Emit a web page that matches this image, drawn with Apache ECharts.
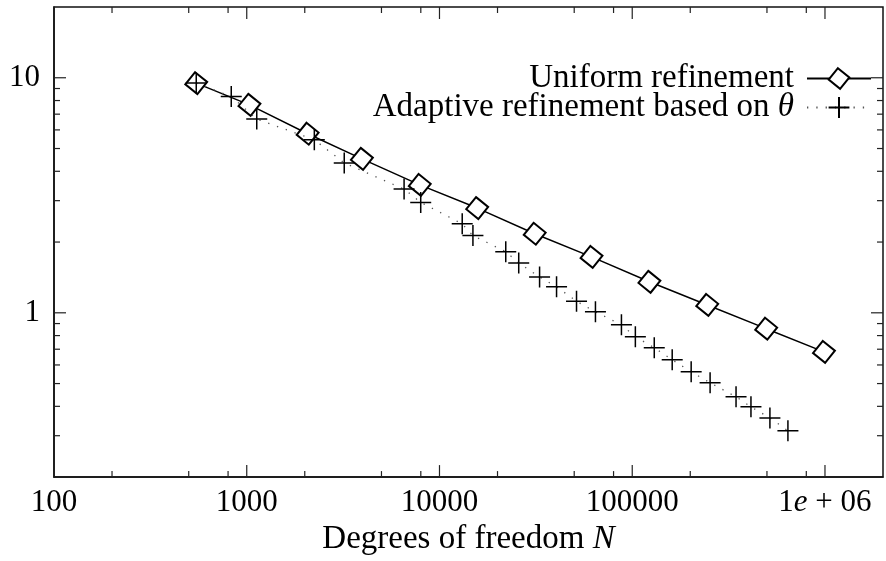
<!doctype html>
<html>
<head>
    <title>Convergence</title>
    <script src="https://cdn.jsdelivr.net/npm/echarts@6/dist/echarts.min.js"></script>
</head>
<style>
    html, body { margin: 0; background: #fff; }
    #chart { width: 886px; height: 561px; }
</style>
<body>
<div id="chart"></div>
<script>
  // degrees of freedom and error values
  var uniformN = [547, 1033, 2070, 3958, 7900, 15690, 31190, 61500, 122800, 245000, 495400, 988000];
  var uniformErr = [9.49, 7.67, 5.78, 4.52, 3.50, 2.79, 2.17, 1.73, 1.355, 1.08, 0.856, 0.682];

  var adaptiveN = [547, 831, 1127, 2242, 3205, 6551, 7991, 13120, 14910, 22070, 25770, 33060, 40490,
                   51400, 64440, 87900, 103800, 130100, 161200, 202200, 253500, 345600, 413000, 518000, 642300];
  var adaptiveErr = [9.49, 8.32, 6.67, 5.45, 4.34, 3.36, 2.95, 2.39, 2.13, 1.82, 1.63, 1.42, 1.29,
                     1.12, 1.01, 0.889, 0.791, 0.710, 0.631, 0.561, 0.504, 0.439, 0.398, 0.357, 0.315];

  var xRange = [100, 2e6];
  var yRange = [0.2, 20];
  var xMajor = [100, 1000, 10000, 100000, 1e6];
  var xMajorLabels = ['100', '1000', '10000', '100000', '1{i|e} + 06'];
  var xMinor = [200, 500, 800, 2000, 5000, 8000, 20000, 50000, 80000, 200000, 500000, 800000];
  var yMajor = [1, 10];
  var yMajorLabels = ['1', '10'];
  var yMinor = [0.3, 0.4, 0.5, 0.6, 0.7, 0.8, 0.9, 2, 3, 4, 5, 6, 7, 8, 9];

  var names = ['Uniform refinement', 'Adaptive refinement based on θ'];

  var font = 'Liberation Serif';
  var fs = 31;     // tick labels
  var fsText = 33; // axis name and key

  function pairs(xs, ys) {
    return xs.map(function (x, i) { return [x, ys[i]]; });
  }

  function labelFor(v, ticks, labels) {
    for (var i = 0; i < ticks.length; i++) {
      if (Math.abs(Math.log10(v) - Math.log10(ticks[i])) < 1e-6) return labels[i];
    }
    return '';
  }

  // tick marks: [x, y, length, kind] kind 0 = x tick, 1 = y tick
  var tickData = [];
  xMajor.forEach(function (v) { tickData.push([v, yRange[0], 12, 0]); });
  xMinor.forEach(function (v) { tickData.push([v, yRange[0], 6, 0]); });
  yMajor.forEach(function (v) { tickData.push([xRange[0], v, 12, 1]); });
  yMinor.forEach(function (v) { tickData.push([xRange[0], v, 6, 1]); });

  var lineStyleTick = { stroke: '#222', lineWidth: 1.2 };

  var myChart = echarts.init(document.getElementById('chart'));
  myChart.setOption({
    animation: false,
    backgroundColor: '#fff',
    grid: {
      left: 54, right: 1, top: 7, bottom: 81,
      show: true, borderColor: '#111', borderWidth: 1.5
    },
    legend: {
      orient: 'vertical',
      right: 9,
      top: 57,
      align: 'right',
      itemWidth: 64,
      itemHeight: 26,
      itemGap: -4,
      data: names,
      formatter: function (name) { return name.replace('θ', '{i|θ}'); },
      textStyle: {
        fontFamily: font, fontSize: fsText, color: '#000',
        padding: [0, 8, 0, 0],
        rich: { i: { fontFamily: font, fontSize: fsText, fontStyle: 'italic', color: '#000' } }
      }
    },
    xAxis: {
      type: 'log',
      logBase: 10,
      min: xRange[0],
      max: xRange[1],
      name: 'Degrees of freedom {i|N}',
      nameLocation: 'middle',
      nameGap: 42,
      nameTextStyle: {
        fontFamily: font, fontSize: fsText, color: '#000',
        rich: { i: { fontFamily: font, fontSize: fsText, fontStyle: 'italic', color: '#000' } }
      },
      axisLine: { show: true, lineStyle: { color: '#111', width: 1.5 } },
      axisTick: { show: false },
      splitLine: { show: false },
      axisLabel: {
        margin: 10,
        fontFamily: font, fontSize: fs, color: '#000',
        showMinLabel: true,
        formatter: function (v) { return labelFor(v, xMajor, xMajorLabels); },
        rich: { i: { fontFamily: font, fontSize: fs, fontStyle: 'italic', color: '#000' } }
      }
    },
    yAxis: {
      type: 'log',
      logBase: 10,
      min: yRange[0],
      max: yRange[1],
      axisLine: { show: true, lineStyle: { color: '#111', width: 1.5 } },
      axisTick: { show: false },
      splitLine: { show: false },
      axisLabel: {
        margin: 14,
        fontFamily: font, fontSize: fs, color: '#000',
        formatter: function (v) { return labelFor(v, yMajor, yMajorLabels); }
      }
    },
    series: [
      {
        type: 'custom',
        silent: true,
        clip: false,
        data: tickData,
        renderItem: function (params, api) {
          var len = api.value(2);
          var kind = api.value(3);
          if (kind === 0) {
            var b = api.coord([api.value(0), yRange[0]]);
            var t = api.coord([api.value(0), yRange[1]]);
            return {
              type: 'group',
              children: [
                { type: 'line', shape: { x1: b[0], y1: b[1], x2: b[0], y2: b[1] - len }, style: lineStyleTick },
                { type: 'line', shape: { x1: t[0], y1: t[1], x2: t[0], y2: t[1] + len }, style: lineStyleTick }
              ]
            };
          }
          var l = api.coord([xRange[0], api.value(1)]);
          var r = api.coord([xRange[1], api.value(1)]);
          return {
            type: 'group',
            children: [
              { type: 'line', shape: { x1: l[0], y1: l[1], x2: l[0] + len, y2: l[1] }, style: lineStyleTick },
              { type: 'line', shape: { x1: r[0], y1: r[1], x2: r[0] - len, y2: r[1] }, style: lineStyleTick }
            ]
          };
        }
      },
      {
        name: names[0],
        type: 'line',
        data: pairs(uniformN, uniformErr),
        symbol: 'emptyDiamond',
        symbolSize: 22,
        symbolRotate: 6,
        color: '#000',
        lineStyle: { color: '#000', width: 1.5 },
        itemStyle: { color: '#000', borderWidth: 1.5 },
        z: 3
      },
      {
        name: names[1],
        type: 'line',
        data: pairs(adaptiveN, adaptiveErr),
        symbol: 'path://M-1,0H1M0,-1V1Z',
        symbolSize: 21,
        color: '#000',
        lineStyle: { color: '#555', width: 1.3, type: [1.3, 8] },
        itemStyle: { color: '#000', borderColor: '#000', borderWidth: 1.5 },
        z: 4
      }
    ]
  });
</script>
</body>
</html>
